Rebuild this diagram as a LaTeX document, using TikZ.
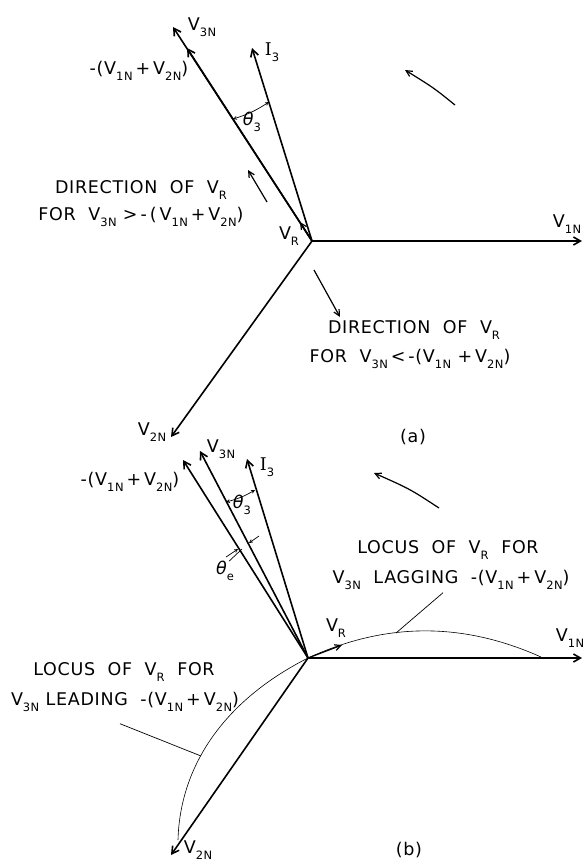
\documentclass[tikz,border=0pt]{standalone}
\usepackage{fontspec}
\setmainfont{DejaVu Sans}[LetterSpace=4]
\newfontfamily\serifI{DejaVu Serif}
\usetikzlibrary{arrows.meta}
\newcommand{\sbs}[1]{\raisebox{-0.32em}{\fontsize{11.5}{11.5}\selectfont #1}}
\newcommand{\Vs}[1]{V\sbs{#1}}
\newcommand{\Ith}{{\serifI I}\sbs{3}}
\newcommand{\thsym}{{\itshape θ}}
\begin{document}
\begin{tikzpicture}[x=1pt,y=-1pt,
  vec/.style={line width=1.6pt,-{Straight Barb[length=7pt,width=8pt]}},
  thinvec/.style={line width=1.2pt,-{Straight Barb[length=6pt,width=6pt]}},
  locus/.style={line width=0.6pt},
  lead/.style={line width=0.7pt},
  dim/.style={line width=0.7pt,-{Straight Barb[length=3pt,width=3pt]}},
  dimarc/.style={line width=0.7pt,{Straight Barb[length=3pt,width=3pt]}-{Straight Barb[length=3pt,width=3pt]}},
  lbl/.style={inner sep=0pt,font=\fontsize{17.5}{20}\selectfont},
]
\useasboundingbox (0,0) rectangle (583,863);

% ---------------- (a) ----------------
\coordinate (Oa) at (312,241);
\coordinate (V1a) at (582,241);
\coordinate (V3a) at (173,27);
\coordinate (Sa) at (187,48);
\coordinate (Ia) at (252,48);
\coordinate (V2a) at (171,437);
\coordinate (VRa) at (300,222);
\draw[vec] (Oa) -- (V1a);
\draw[vec] (Oa) -- (V3a);
\draw[vec] (Oa) -- (Sa);
\draw[vec] (Oa) -- (Ia);
\draw[vec] (Oa) -- (V2a);
\draw[thinvec] (Oa) -- (VRa);
% theta3 arc (a)
\coordinate (t3a1) at (233,119);
\coordinate (t3a2) at (269,102);
\draw[dimarc] (t3a1) to[bend right=8] (t3a2);
% direction arrows
\coordinate (d1s) at (267,202);
\coordinate (d1e) at (248,170);
\draw[thinvec] (d1s) -- (d1e);
\coordinate (d2s) at (314,270);
\coordinate (d2e) at (340,317);
\draw[thinvec] (d2s) -- (d2e);
% rotation arrow (a)
\coordinate (ra1) at (455,105);
\coordinate (ra2) at (405,70);
\draw[thinvec] (ra1) .. controls (434,88) .. (ra2);

\node[lbl] (lV3a) at (202,27) {\Vs{3N}};
\node[lbl] (lSa) at (139,71) {-(\Vs{1N}\,+\,\Vs{2N})};
\node[lbl] (lIa) at (272,52) {\Ith};
\node[lbl] (lt3a) at (252,122) {\thsym\sbs{3}};
\node[lbl] (ldir1) at (141,190) {DIRECTION\ \ OF\ \ \Vs{R}};
\node[lbl] (lfor1) at (141,217) {FOR\ \ \Vs{3N} >\,-\,(\,\Vs{1N}\,+\,\Vs{2N})};
\node[lbl] (lVRa) at (289,236) {\Vs{R}};
\node[lbl] (lV1a) at (567,224) {\Vs{1N}};
\node[lbl] (ldir2) at (414,330) {DIRECTION\ \ OF\ \ \Vs{R}};
\node[lbl] (lfor2) at (410,359) {FOR\ \ \Vs{3N}\,<\,-(\Vs{1N}\ +\,\Vs{2N})};
\node[lbl] (lV2a) at (152,432) {\Vs{2N}};
\node[lbl] (la) at (413,437) {(a)};

% ---------------- (b) ----------------
\coordinate (Ob) at (308,658);
\coordinate (V1b) at (582,658);
\coordinate (V3b) at (200,451);
\coordinate (Sb) at (183,460);
\coordinate (Ib) at (247,459);
\coordinate (V2b) at (171,855);
\coordinate (VRb) at (342,645);
\draw[vec] (Ob) -- (V1b);
\draw[vec] (Ob) -- (V3b);
\draw[vec] (Ob) -- (Sb);
\draw[vec] (Ob) -- (Ib);
\draw[vec] (Ob) -- (V2b);
\draw[thinvec] (Ob) -- (VRb);
% loci
\coordinate (L1e) at (541,657);
\coordinate (L2e) at (178,840);
\draw[locus] (Ob) .. controls (386,622) and (463,622) .. (L1e);
\draw[locus] (Ob) .. controls (225,700) and (180,765) .. (L2e);
% theta3 arc (b)
\coordinate (t3b1) at (226,502);
\coordinate (t3b2) at (255,490);
\draw[dimarc] (t3b1) to[bend right=8] (t3b2);
% theta e marks
\coordinate (te1s) at (226,557);
\coordinate (te1e) at (238,549);
\coordinate (te2s) at (259,536);
\coordinate (te2e) at (249,543);
\draw[dim] (te1s) -- (te1e);
\draw[dim] (te2s) -- (te2e);
% rotation arrow (b)
\coordinate (rb1) at (439,508);
\coordinate (rb2) at (374,473);
\draw[thinvec] (rb1) .. controls (410,489) .. (rb2);

\node[lbl] (lV3b) at (221,449) {\Vs{3N}};
\node[lbl] (lIb) at (267,467) {\Ith};
\node[lbl] (lSb) at (130,482) {-(\Vs{1N}\,+\,\Vs{2N})};
\node[lbl] (lt3b) at (242,505) {\thsym\sbs{3}};
\node[lbl] (lteb) at (225,571) {\thsym\sbs{e}};
\node[lbl] (llo1) at (448,550) {LOCUS\ \ OF\ \ \Vs{R}\ \ FOR};
\node[lbl] (llag) at (451,580) {\Vs{3N}\ \ LAGGING\ \ -(\Vs{1N}\,+\,\Vs{2N})};
\node[lbl] (lVRb) at (336,628) {\Vs{R}};
\node[lbl] (lV1b) at (570,638) {\Vs{1N}};
\node[lbl] (llo2) at (124,672) {LOCUS\ \ OF\ \ \Vs{R}\ \ FOR};
\node[lbl] (llead) at (125,702) {\Vs{3N}\ LEADING\ \ -(\Vs{1N}\,+\,\Vs{2N})};
\node[lbl] (lV2b) at (198,850) {\Vs{2N}};
\node[lbl] (lb) at (409,850) {(b)};

% leaders
\coordinate (k1) at (396,633);
\coordinate (k2) at (201,756);
\coordinate (k3) at (242,549);
\draw[lead] (llag.south) ++(-8,3) -- (k1);
\draw[lead] (llead.south) ++(-5,12) -- (k2);
\draw[lead] (lteb.north) ++(4,0) -- (k3);
\end{tikzpicture}
\end{document}
